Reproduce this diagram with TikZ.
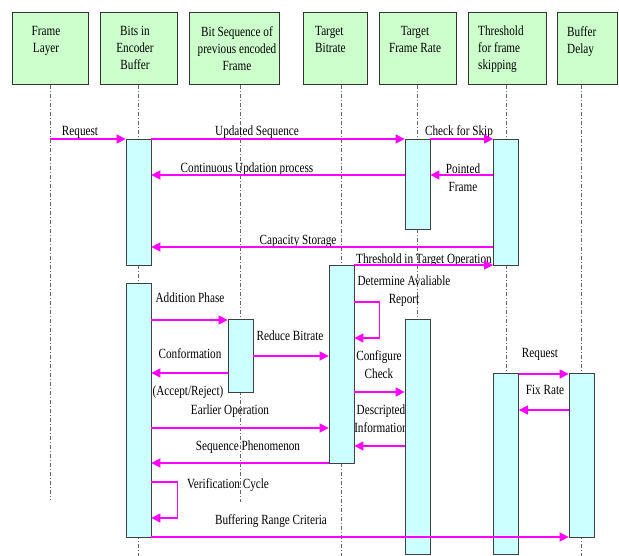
\documentclass[tikz,border=0pt]{standalone}
\usepackage{fontspec}
\setmainfont{Liberation Serif}[FakeStretch=0.8]
\usetikzlibrary{arrows.meta, positioning}

\definecolor{headgreen}{HTML}{CCFFCC}
\definecolor{actcyan}{HTML}{CCFFFF}
\definecolor{msgpink}{HTML}{FF00FF}

\begin{document}
\begin{tikzpicture}[
    x=1pt, y=-1pt,
    head/.style={rectangle, draw=black!80, line width=1pt, fill=headgreen,
                 minimum height=72pt, inner sep=0pt},
    headtext/.style={anchor=north, align=center, inner sep=0pt,
                     font=\fontsize{14}{17}\selectfont},
    life/.style={draw=black!60, line width=0.9pt,
                 dash pattern=on 4pt off 2pt on 1pt off 2pt},
    act/.style={rectangle, draw=black!75, line width=0.8pt, fill=actcyan,
                minimum width=25pt, inner sep=0pt},
    msg/.style={-{Triangle[length=9pt, width=9pt]}, draw=msgpink,
                line width=1.3pt},
    lbl/.style={inner sep=0pt, align=center, font=\fontsize{14}{18}\selectfont},
]
\useasboundingbox (0,0) rectangle (619,556);

% ── Header boxes ──
\node[head, minimum width=76pt] (hFrame)     at (50,49)    {};
\node[head, minimum width=77pt] (hBits)      at (138.5,49) {};
\node[head, minimum width=90pt] (hBitSeq)    at (234,49)   {};
\node[head, minimum width=64pt] (hBitrate)   at (335,49)   {};
\node[head, minimum width=77pt] (hFrameRate) at (417.5,49) {};
\node[head, minimum width=78pt] (hThresh)    at (507,49)   {};
\node[head, minimum width=60pt] (hBuffer)    at (587.5,49) {};

\node[headtext] (tFrame)   at (46,26)  {Frame\\Layer};
\node[headtext] (tBits)    at (135,26) {Bits in\\Encoder\\Buffer};
\node[headtext] (tBitSeq)  at (237,26) {Bit Sequence of\\previous encoded\\Frame};
\node[headtext, anchor=north west, align=left] (tBitrate) at (315,26) {Target\\Bitrate};
\node[headtext] (tFrameRate) at (415,26) {Target\\Frame Rate};
\node[headtext, anchor=north west, align=left] (tThresh) at (478,26) {Threshold\\for frame\\skipping};
\node[headtext, anchor=north west, align=left] (tBuffer) at (567,26) {Buffer\\Delay};

% ── Lifelines ──
\coordinate (lFrame)     at (50,85);
\coordinate (lBits)      at (138.5,85);
\coordinate (lBitSeq)    at (240.5,85);
\coordinate (lBitrate)   at (341.5,85);
\coordinate (lFrameRate) at (417.5,85);
\coordinate (lThresh)    at (506,85);
\coordinate (lBuffer)    at (581.5,85);

\draw[life] (lFrame)     -- (lFrame |- 0,500);
\draw[life] (lBits)      -- (lBits |- 0,556);
\draw[life] (lBitSeq)    -- (lBitSeq |- 0,502);
\draw[life] (lBitrate)   -- (lBitrate |- 0,556);
\draw[life] (lFrameRate) -- (lFrameRate |- 0,554);
\draw[life] (lThresh)    -- (lThresh |- 0,554);
\draw[life] (lBuffer)    -- (lBuffer |- 0,556);

% ── Message labels ──
\node[lbl, anchor=base]  (tReq)    at (80,136)  {Request};
\node[lbl, anchor=base]  (tUpd)    at (257,136) {Updated Sequence};
\node[lbl, anchor=base]  (tSkip)   at (459,136) {Check for Skip};
\node[lbl, anchor=base]  (tCont)   at (247,173) {Continuous Updation process};
\node[lbl, anchor=north] (tPoint)  at (463,164) {Pointed\\Frame};
\node[lbl, anchor=base]  (tCap)    at (298,245) {Capacity Storage};
\node[lbl, anchor=base]  (tThr)    at (424,264) {Threshold in Target Operation};
\node[lbl, anchor=north] (tDet)    at (404,276) {Determine Avaliable\\Report};
\node[lbl, anchor=base]  (tAdd)    at (190,303) {Addition Phase};
\node[lbl, anchor=base]  (tRed)    at (290,341) {Reduce Bitrate};
\node[lbl, anchor=base]  (tConf)   at (190,359) {Conformation};
\node[lbl, anchor=base]  (tAcc)    at (188,395) {(Accept/Reject)};
\node[lbl, anchor=north] (tCfg)    at (379,350) {Configure\\Check};
\node[lbl, anchor=base]  (tEarl)   at (230,414) {Earlier Operation};
\node[lbl, anchor=north] (tDesc)   at (381,405) {Descripted\\Information};
\node[lbl, anchor=base]  (tSeq)    at (248,450) {Sequence Phenomenon};
\node[lbl, anchor=base]  (tVer)    at (228,488) {Verification Cycle};
\node[lbl, anchor=base]  (tBufR)   at (271,524) {Buffering Range Criteria};
\node[lbl, anchor=base]  (tReq2)   at (540,358) {Request};
\node[lbl, anchor=base]  (tFix)    at (545,394) {Fix Rate};

% ── Activation bars ──
\node[act, minimum height=126pt] (aBits1)      at (138.5,202)   {};
\node[act, minimum height=254pt] (aBits2)      at (138.5,410)   {};
\node[act, minimum height=73pt]  (aBitSeq)     at (240.5,355.5) {};
\node[act, minimum height=198pt] (aBitrate)    at (341.5,364)   {};
\node[act, minimum height=90pt]  (aFrameRate1) at (417.5,184)   {};
\node[act, minimum height=235pt] (aFrameRate2) at (417.5,436.5) {};
\node[act, minimum height=126pt] (aThresh1)    at (506,202)     {};
\node[act, minimum height=181pt] (aThresh2)    at (506,463.5)   {};
\node[act, minimum height=164pt] (aBuffer)     at (581.5,455)   {};

% ── Message rows ──
\coordinate (yReq)  at (0,139);
\coordinate (yCont) at (0,175);
\coordinate (yCap)  at (0,247);
\coordinate (yThr)  at (0,265);
\coordinate (yDetA) at (0,302);
\coordinate (yDetB) at (0,338);
\coordinate (yAdd)  at (0,320);
\coordinate (yRed)  at (0,356);
\coordinate (yConf) at (0,373);
\coordinate (yReq2) at (0,374);
\coordinate (yCfg)  at (0,392);
\coordinate (yFix)  at (0,410);
\coordinate (yEarl) at (0,428);
\coordinate (yDesc) at (0,446);
\coordinate (ySeq)  at (0,463);
\coordinate (yVerA) at (0,482);
\coordinate (yVerB) at (0,518);
\coordinate (yBufR) at (0,537);

% ── Messages ──
\draw[msg] (lFrame |- yReq) -- (aBits1.west |- yReq);
\draw[msg] (aBits1.east |- yReq) -- (aFrameRate1.west |- yReq);
\draw[msg] (aFrameRate1.east |- yReq) -- (aThresh1.west |- yReq);
\draw[msg] (aFrameRate1.west |- yCont) -- (aBits1.east |- yCont);
\draw[msg] (aThresh1.west |- yCont) -- (aFrameRate1.east |- yCont);
\draw[msg] (aThresh1.west |- yCap) -- (aBits1.east |- yCap);
\draw[msg] (aBitrate.east |- yThr) -- (aThresh1.west |- yThr);

\draw[msg] (aBitrate.east |- yDetA) -- ++(25,0) |- (aBitrate.east |- yDetB);
\draw[msg] (aBits2.east |- yAdd) -- (aBitSeq.west |- yAdd);
\draw[msg] (aBitSeq.east |- yRed) -- (aBitrate.west |- yRed);
\draw[msg] (aBitSeq.west |- yConf) -- (aBits2.east |- yConf);
\draw[msg] (aThresh2.east |- yReq2) -- (aBuffer.west |- yReq2);
\draw[msg] (aBitrate.east |- yCfg) -- (aFrameRate2.west |- yCfg);
\draw[msg] (aBuffer.west |- yFix) -- (aThresh2.east |- yFix);
\draw[msg] (aBits2.east |- yEarl) -- (aBitrate.west |- yEarl);
\draw[msg] (aFrameRate2.west |- yDesc) -- (aBitrate.east |- yDesc);
\draw[msg] (aBitrate.west |- ySeq) -- (aBits2.east |- ySeq);
\draw[msg] (aBits2.east |- yVerA) -- ++(26,0) |- (aBits2.east |- yVerB);
\draw[msg] (aBits2.east |- yBufR) -- (aBuffer.west |- yBufR);

\end{tikzpicture}
\end{document}
